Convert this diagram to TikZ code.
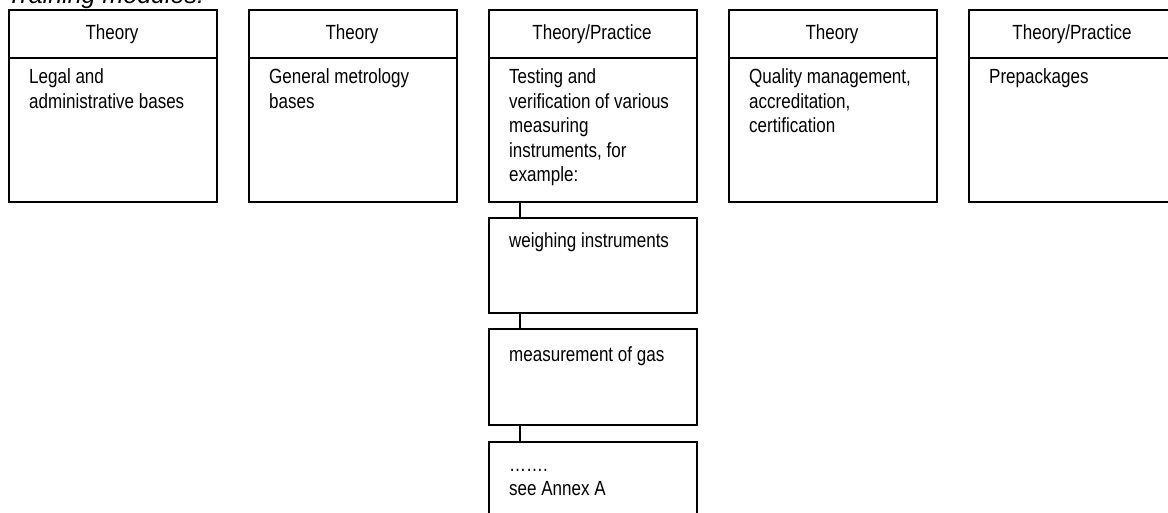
\documentclass[tikz,border=0pt]{standalone}
\usepackage{fontspec}
\newfontfamily\narrowfont[FakeStretch=0.83]{Liberation Sans}
\newfontfamily\titlefont{Liberation Sans}
\begin{document}
\begin{tikzpicture}[x=1pt,y=-1pt,
  box/.style={draw=black, line width=1.6pt, rectangle, anchor=north west, minimum width=208pt, inner sep=0pt},
  head/.style={anchor=base, inner sep=0pt, font=\narrowfont\fontsize{20.5}{22}\selectfont},
  body/.style={anchor=base west, inner sep=0pt, align=left, font=\narrowfont\fontsize{20.5}{24.5}\selectfont},
  conn/.style={draw=black, line width=1.6pt}]
\useasboundingbox (0,0) rectangle (1168,513);
\clip (0,0) rectangle (1168,513);
\fill[white] (0,0) rectangle (1168,513);
\node[anchor=base west, inner sep=0pt, font=\titlefont\itshape\fontsize{25}{28}\selectfont] (title) at (7,4) {Training modules:};
% top boxes
\foreach \i/\x in {1/8,2/248,3/488,4/728,5/968}{
  \node[box, minimum height=48pt] (h\i) at (\x,9) {};
  \node[box, minimum height=144pt] (b\i) at (\x,57) {};
}
\node[head] (ht1) at (112,40) {Theory};
\node[head] (ht2) at (352,40) {Theory};
\node[head] (ht3) at (592,40) {Theory/Practice};
\node[head] (ht4) at (832,40) {Theory};
\node[head] (ht5) at (1072,40) {Theory/Practice};
% base anchor of a multi-line node = baseline of its last line
\node[body] (bt1) at (29,108.5) {Legal and\\administrative bases};
\node[body] (bt2) at (269,108.5) {General metrology\\bases};
\node[body] (bt3) at (509,182) {Testing and\\verification of various\\measuring\\instruments, for\\example:};
\node[body] (bt4) at (749,133) {Quality management,\\accreditation,\\certification};
\node[body] (bt5) at (989,84) {Prepackages};
% sub boxes
\node[box, minimum height=95pt] (s1) at (488,217) {};
\node[box, minimum height=96pt] (s2) at (488,328) {};
\node[box, minimum height=96pt] (s3) at (488,441) {};
\node[body] (st1) at (509,248) {weighing instruments};
\node[body] (st2) at (509,361) {measurement of gas};
\node[body] (st3) at (509,495.5) {…….\\see Annex A};
% connectors
\draw[conn] ([xshift=32pt]b3.south west) -- ([xshift=32pt]s1.north west);
\draw[conn] ([xshift=32pt]s1.south west) -- ([xshift=32pt]s2.north west);
\draw[conn] ([xshift=32pt]s2.south west) -- ([xshift=32pt]s3.north west);
\end{tikzpicture}
\end{document}
